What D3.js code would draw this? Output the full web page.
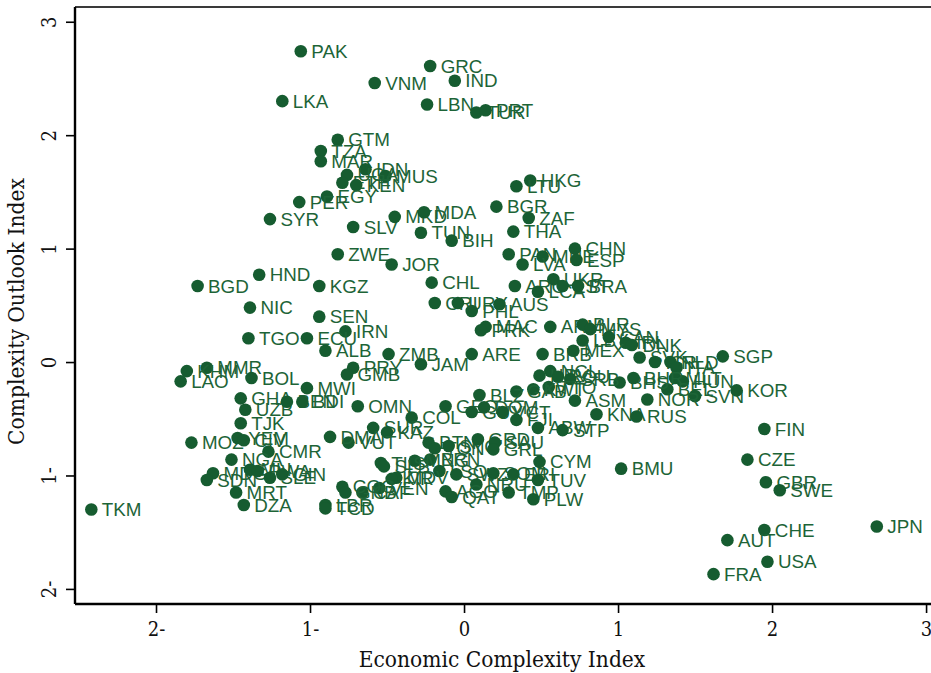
<!DOCTYPE html>
<html>
<head>
<meta charset="utf-8">
<script src="https://cdn.jsdelivr.net/npm/d3@7"></script>
<style>
  body { margin: 0; background: #fff; }
  svg { display: block; }
</style>
</head>
<body>
<svg id="chart" width="931" height="673"></svg>
<script>
// country codes, economic complexity index (x) and complexity outlook index (y)
const codes = ['PAK','GRC','VNM','IND','LKA','LBN','TUR','PRT','GTM','TZA','MAR','IDN','MUS','UGA','ETH','KEN','EGY','PER',
  'SYR','SLV','MKD','MDA','TUN','BIH','BGR','ZAF','THA','HKG','LTU','ZWE','JOR','HND','BGD','KGZ','CHL','PAN','MNE','LVA',
  'CHN','ESP','ARG','UKR','LCA','EST','BRA','NIC','SEN','IRN','TGO','ECU','ALB','CRI','URY','PHL','AUS','MAC','PRK','ARM',
  'BLR','MYS','LBY','CAN','IRL','DNK','ARE','BRB','MEX','ZMB','JAM','SVK','ISR','NLD','ITA','SGP','MLT','HUN','BEL','SVN',
  'KOR','NOR','BHS','BHR','NCL','HRV','ROU','SRB','TTO','KWT','GAB','ASM','KNA','RUS','BLZ','GEO','OMN','COL','GUY','DOM',
  'VCT','FJI','ABW','STP','SUR','KAZ','VUT','DMA','BTN','TON','SYC','GRD','SAU','GRL','BRN','MNG','TLS','SLB','LSO','SWZ',
  'SOM','ERI','TUV','CYM','NRU','AGO','QAT','TMP','PLW','MDV','KIR','VEN','CAF','COG','GNB','LBR','TCD','BMU','FIN','CZE',
  'GBR','SWE','JPN','CHE','AUT','USA','FRA','TKM','MOZ','YEM','CIV','CMR','NGA','MDG','SDN','MLI','RWA','SLE','GIN','MRT',
  'DZA','MMR','KHM','LAO','BOL','MWI','PRY','GMB','GHA','UZB','TJK','BEN','BDI'];

const eci = [-1.06,-0.22,-0.58,-0.06,-1.18,-0.24,0.08,0.14,-0.82,-0.93,-0.93,-0.64,-0.51,-0.76,-0.79,-0.70,-0.89,-1.07,
  -1.26,-0.72,-0.45,-0.26,-0.28,-0.08,0.21,0.42,0.32,0.43,0.34,-0.82,-0.47,-1.33,-1.73,-0.94,-0.21,0.29,0.51,0.38,
  0.72,0.73,0.33,0.58,0.48,0.64,0.74,-1.39,-0.94,-0.77,-1.40,-1.02,-0.90,-0.19,-0.04,0.05,0.23,0.14,0.11,0.56,
  0.77,0.82,0.77,0.94,1.05,1.09,0.05,0.51,0.71,-0.49,-0.28,1.14,1.24,1.34,1.38,1.68,1.37,1.42,1.32,1.50,
  1.77,1.19,1.01,1.10,0.56,0.49,0.61,0.69,0.55,0.45,0.34,0.72,0.86,1.12,0.10,-0.12,-0.69,-0.34,0.05,0.13,
  0.25,0.34,0.48,0.64,-0.59,-0.50,-0.75,-0.87,-0.23,-0.19,-0.10,0.09,0.20,0.19,-0.22,-0.32,-0.54,-0.52,-0.16,-0.05,
  0.19,0.32,0.48,0.49,0.08,-0.12,-0.08,0.29,0.45,-0.44,-0.47,-0.55,-0.66,-0.79,-0.77,-0.90,-0.90,1.02,1.95,1.84,
  1.96,2.05,2.68,1.95,1.71,1.97,1.62,-2.42,-1.77,-1.47,-1.43,-1.27,-1.51,-1.63,-1.67,-1.39,-1.34,-1.26,-1.18,-1.48,
  -1.43,-1.67,-1.80,-1.84,-1.38,-1.02,-0.72,-0.76,-1.45,-1.42,-1.45,-1.15,-1.05];

const coi = [2.74,2.61,2.46,2.48,2.30,2.27,2.20,2.22,1.96,1.86,1.77,1.70,1.64,1.65,1.58,1.56,1.46,1.41,
  1.26,1.19,1.28,1.32,1.14,1.07,1.37,1.27,1.15,1.60,1.55,0.95,0.86,0.77,0.67,0.67,0.70,0.95,0.93,0.86,
  1.00,0.90,0.67,0.73,0.62,0.67,0.67,0.48,0.40,0.27,0.21,0.21,0.10,0.52,0.52,0.45,0.51,0.31,0.28,0.31,
  0.33,0.29,0.19,0.22,0.17,0.15,0.07,0.07,0.10,0.07,-0.02,0.04,0.00,0.00,-0.05,0.05,-0.14,-0.17,-0.24,-0.30,
  -0.25,-0.33,-0.18,-0.14,-0.08,-0.12,-0.13,-0.15,-0.22,-0.24,-0.26,-0.34,-0.46,-0.48,-0.29,-0.39,-0.39,-0.49,-0.44,-0.40,
  -0.44,-0.51,-0.58,-0.60,-0.58,-0.62,-0.71,-0.66,-0.71,-0.76,-0.74,-0.68,-0.71,-0.77,-0.86,-0.87,-0.89,-0.92,-0.96,-0.99,
  -0.98,-0.99,-1.04,-0.88,-1.08,-1.14,-1.19,-1.15,-1.21,-1.02,-1.03,-1.11,-1.15,-1.10,-1.15,-1.26,-1.29,-0.94,-0.59,-0.86,
  -1.06,-1.13,-1.45,-1.48,-1.57,-1.76,-1.87,-1.30,-0.71,-0.67,-0.69,-0.79,-0.86,-0.98,-1.04,-0.95,-0.96,-1.02,-0.99,-1.15,
  -1.26,-0.05,-0.08,-0.17,-0.14,-0.23,-0.05,-0.11,-0.32,-0.42,-0.54,-0.35,-0.35];

const xTicks = [-2, -1, 0, 1, 2, 3];
const xTickLabels = ['2-', '1-', '0', '1', '2', '3'];
const yTicks = [-2, -1, 0, 1, 2, 3];
const yTickLabels = ['2-', '1-', '0', '1', '2', '3'];

const svg = d3.select('#chart');
const plotLeft = 75, plotTop = 7, plotBottom = 604, plotRight = 931;
const dotColor = '#165c30';
const textColor = '#1d6437';
const axisFont = '"DejaVu Serif Condensed", "DejaVu Serif", serif';

const x = d3.scaleLinear().domain([-2.526, 3.032]).range([plotLeft, plotRight]);
const y = d3.scaleLinear().domain([-2.133, 3.13]).range([plotBottom, plotTop]);

const points = codes.map((c, i) => ({ code: c, eci: eci[i], coi: coi[i] }));

// top frame line
svg.append('line')
  .attr('x1', plotLeft).attr('x2', plotRight).attr('y1', plotTop).attr('y2', plotTop)
  .attr('stroke', '#3a3a3a').attr('stroke-width', 2);

// x axis
const xAxis = svg.append('g')
  .attr('transform', `translate(0,${plotBottom})`)
  .call(d3.axisBottom(x).tickValues(xTicks).tickSize(9).tickPadding(9)
    .tickFormat((d, i) => xTickLabels[i]));
xAxis.select('.domain').attr('stroke', '#000').attr('stroke-width', 2.4)
  .attr('d', `M${plotLeft},0H${plotRight}`);
xAxis.selectAll('.tick line').attr('stroke', '#000').attr('stroke-width', 1.6);
xAxis.selectAll('.tick text')
  .attr('font-family', axisFont).attr('font-size', 20).attr('fill', '#111');

// y axis, labels rotated
const yAxis = svg.append('g')
  .attr('transform', `translate(${plotLeft},0)`)
  .call(d3.axisLeft(y).tickValues(yTicks).tickSize(9).tickPadding(0)
    .tickFormat((d, i) => yTickLabels[i]));
yAxis.select('.domain').attr('stroke', '#000').attr('stroke-width', 2.4)
  .attr('d', `M0,${plotTop}V${plotBottom}`);
yAxis.selectAll('.tick line').attr('stroke', '#000').attr('stroke-width', 1.6);
yAxis.selectAll('.tick text')
  .attr('font-family', axisFont).attr('font-size', 20).attr('fill', '#111')
  .attr('x', null)
  .attr('text-anchor', 'middle')
  .attr('transform', 'translate(-26,0) rotate(-90)')
  .attr('dy', '0.35em');

// axis titles
svg.append('text')
  .attr('x', (plotLeft + 929) / 2).attr('y', 667)
  .attr('text-anchor', 'middle')
  .attr('font-family', axisFont).attr('font-size', 22.5).attr('fill', '#111')
  .text('Economic Complexity Index');

svg.append('text')
  .attr('transform', `translate(24,${(plotTop + plotBottom) / 2 + 6}) rotate(-90)`)
  .attr('text-anchor', 'middle')
  .attr('font-family', axisFont).attr('font-size', 22.5).attr('fill', '#111')
  .text('Complexity Outlook Index');

// points with labels
const pt = svg.append('g').selectAll('g.pt')
  .data(points)
  .enter()
  .append('g')
  .attr('class', 'pt');

pt.append('circle')
  .attr('cx', d => x(d.eci))
  .attr('cy', d => y(d.coi))
  .attr('r', 6.3)
  .attr('fill', dotColor);

pt.append('text')
  .attr('x', d => x(d.eci) + 10.5)
  .attr('y', d => y(d.coi) + 6.6)
  .attr('font-family', '"Liberation Sans", Arial, sans-serif')
  .attr('font-size', 18.8)
  .attr('fill', textColor)
  .text(d => d.code);
</script>
</body>
</html>
